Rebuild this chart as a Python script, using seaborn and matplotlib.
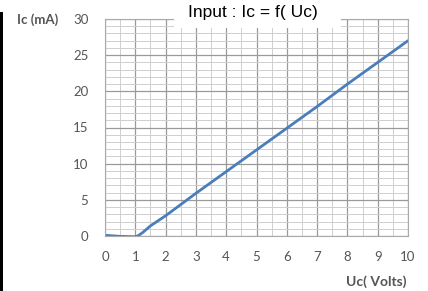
import matplotlib
matplotlib.use("Agg")
import matplotlib.pyplot as plt
import seaborn as sns
import pandas as pd
from matplotlib.patches import Rectangle
from matplotlib.ticker import MultipleLocator

uc = [0, 0.5, 1.0, 1.1, 1.25, 1.5, 2, 3, 4, 5, 6, 7, 8, 9, 10]
ic = [0.1, -0.05, -0.1, 0.05, 0.5, 1.4, 2.8, 5.9, 8.9, 11.9, 14.9, 17.9, 21.0, 24.0, 27.0]
xticks = list(range(0, 11))
yticks = [0, 5, 10, 15, 20, 25, 30]

sns.set_style("white")
plt.rcParams['font.family'] = ['Lato', 'DejaVu Sans']

fig = plt.figure(figsize=(4.28, 2.91), dpi=100)
ax = fig.add_axes([105/428, 1-236/291, (408-105)/428, (236-19)/291])

df = pd.DataFrame({"Uc": uc, "Ic": ic})
sns.lineplot(data=df, x="Uc", y="Ic", ax=ax, color="#4a7ebb", linewidth=2.0)

ax.set_xlim(0, 10)
ax.set_ylim(0, 30)
ax.set_xticks(xticks)
ax.set_yticks(yticks)
ax.xaxis.set_minor_locator(MultipleLocator(0.5))
ax.yaxis.set_minor_locator(MultipleLocator(1))
ax.grid(which="major", color="#9a9a9a", linewidth=0.9)
ax.grid(which="minor", color="#cfcfcf", linewidth=0.7)
ax.set_axisbelow(True)
ax.tick_params(axis="both", which="major", direction="out", length=4, width=0.8,
               color="#888888", labelcolor="#555555", labelsize=9.5)
ax.tick_params(axis="x", which="major", pad=7)
ax.tick_params(axis="y", which="major", pad=8)
ax.tick_params(which="minor", length=0)
for s in ax.spines.values():
    s.set_color("#aaaaaa")
    s.set_linewidth(0.8)
ax.set_xlabel("")
ax.set_ylabel("")

fig.text(17/428, 1-20/291, "Ic (mA)", fontsize=9.5, fontweight="bold", color="#555555",
         va="center", ha="left")
fig.text(406/428, 1-282/291, "Uc( Volts)", fontsize=10, fontweight="bold", color="#555555",
         va="center", ha="right")

box = Rectangle((174/428, 1-28/291), (341-174)/428, 28/291,
                transform=fig.transFigure, facecolor="white", edgecolor="none", zorder=5)
fig.add_artist(box)
fig.text(253/428, 1-13/291, "Input : Ic = f( Uc)", fontsize=12.5, color="black",
         family=["Liberation Sans", "DejaVu Sans"], ha="center", va="center", zorder=6)

bar = Rectangle((0, 0), 3/428, 1-12/291, transform=fig.transFigure,
                facecolor="black", edgecolor="none", zorder=5)
fig.add_artist(bar)

fig.savefig("out.png", dpi=100)
